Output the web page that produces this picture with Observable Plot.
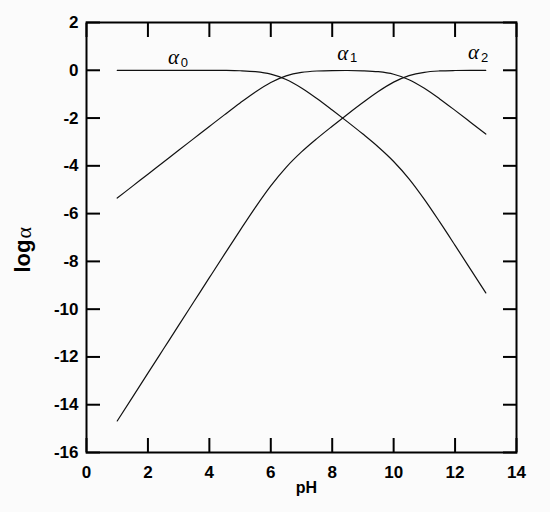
<!DOCTYPE html>
<html>
<head>
<meta charset="utf-8">
<script src="https://cdn.jsdelivr.net/npm/d3@7"></script>
<script src="https://cdn.jsdelivr.net/npm/@observablehq/plot@0.6"></script>
<style>
  html, body { margin: 0; padding: 0; background: #ffffff; }
  #chart svg { background: #fbfbfb; }
</style>
</head>
<body>
<div id="chart"></div>
<script>
// pH grid
const pH = [1,1.5,2,2.5,3,3.5,4,4.5,5,5.5,6,6.5,7,7.5,8,8.5,9,9.5,10,10.5,11,11.5,12,12.5,13];
// log alpha values
const logA0 = [0,0,0,0,0,-0.001,-0.002,-0.006,-0.019,-0.057,-0.160,-0.383,-0.738,-1.180,-1.662,-2.159,-2.671,-3.210,-3.817,-4.544,-5.404,-6.348,-7.329,-8.323,-9.321];
const logA1 = [-5.35,-4.85,-4.35,-3.85,-3.35,-2.851,-2.352,-1.856,-1.369,-0.907,-0.510,-0.233,-0.088,-0.030,-0.012,-0.009,-0.021,-0.060,-0.167,-0.394,-0.754,-1.198,-1.679,-2.173,-2.671];
const logA2 = [-14.68,-13.68,-12.68,-11.68,-10.68,-9.681,-8.682,-7.686,-6.699,-5.737,-4.840,-4.063,-3.418,-2.860,-2.342,-1.839,-1.351,-0.890,-0.497,-0.224,-0.084,-0.028,-0.009,-0.003,-0.001];
const seriesNames = ["α0","α1","α2"];

// curve labels
const labelSymbol = ["α","α","α"];
const labelSub = ["0","1","2"];
const labelX = [2.83, 8.34, 12.6];
const labelY = [0.54, 0.71, 0.75];

// ticks
const xTicks = [0,2,4,6,8,10,12,14];
const yTicks = [2,0,-2,-4,-6,-8,-10,-12,-14,-16];

const rows = [];
[logA0, logA1, logA2].forEach((arr, s) => {
  arr.forEach((v, i) => rows.push({pH: pH[i], v, series: seriesNames[s]}));
});
const labels = labelSymbol.map((t, i) => ({t, sub: labelSub[i], x: labelX[i], y: labelY[i]}));

const font = "Liberation Sans, Arial, sans-serif";
const fmt = d => String(d);

const chart = Plot.plot({
  width: 550,
  height: 512,
  marginLeft: 86,
  marginRight: 34,
  marginTop: 22,
  marginBottom: 60,
  style: {fontFamily: font, background: "#fbfbfb"},
  x: {domain: [0, 14], label: null},
  y: {domain: [-16, 2], label: null},
  marks: [
    // inward ticks on all four sides
    Plot.axisX(xTicks, {anchor: "bottom", tickSize: -14, strokeWidth: 2, tickFormat: () => "", label: null}),
    Plot.axisX(xTicks, {anchor: "top", tickSize: -14, strokeWidth: 2, tickFormat: () => "", label: null}),
    Plot.axisY(yTicks, {anchor: "left", tickSize: -14, strokeWidth: 2, tickFormat: () => "", label: null}),
    Plot.axisY(yTicks, {anchor: "right", tickSize: -14, strokeWidth: 2, tickFormat: () => "", label: null}),
    // tick labels
    Plot.axisX(xTicks, {anchor: "bottom", tickSize: 0, tickPadding: 13, tickFormat: fmt, fontSize: 17, fontWeight: "bold", fill: "#000", label: null}),
    Plot.axisY(yTicks, {anchor: "left", tickSize: 0, tickPadding: 8, tickFormat: fmt, fontSize: 17, fontWeight: "bold", fill: "#000", label: null}),
    Plot.line(rows, {x: "pH", y: "v", z: "series", stroke: "#111", strokeWidth: 1.2, curve: "monotone-x"}),
    Plot.frame({stroke: "#000", strokeWidth: 2}),
    Plot.text(labels, {x: "x", y: "y", text: "t", fontSize: 21, fontStyle: "italic", fontFamily: "Liberation Serif, Times New Roman, serif", fill: "#000"}),
    Plot.text(labels, {x: "x", y: "y", text: "sub", dx: 11, dy: 5, fontSize: 13, fontFamily: font, fill: "#000"}),
    Plot.text(["pH"], {frameAnchor: "bottom", textAnchor: "middle", dx: 5, dy: 40, fontSize: 16, fontWeight: "bold", fill: "#000"}),
    Plot.text(["log"], {frameAnchor: "left", textAnchor: "start", lineAnchor: "middle", dx: -64, dy: 35, rotate: -90, fontSize: 22, fontWeight: "bold", fill: "#000"}),
    Plot.text(["α"], {frameAnchor: "left", textAnchor: "start", lineAnchor: "middle", dx: -63, dy: 1, rotate: -90, fontSize: 22, fontFamily: "Liberation Serif, Times New Roman, serif", fill: "#000"})
  ]
});
document.getElementById("chart").appendChild(chart);
</script>
</body>
</html>
